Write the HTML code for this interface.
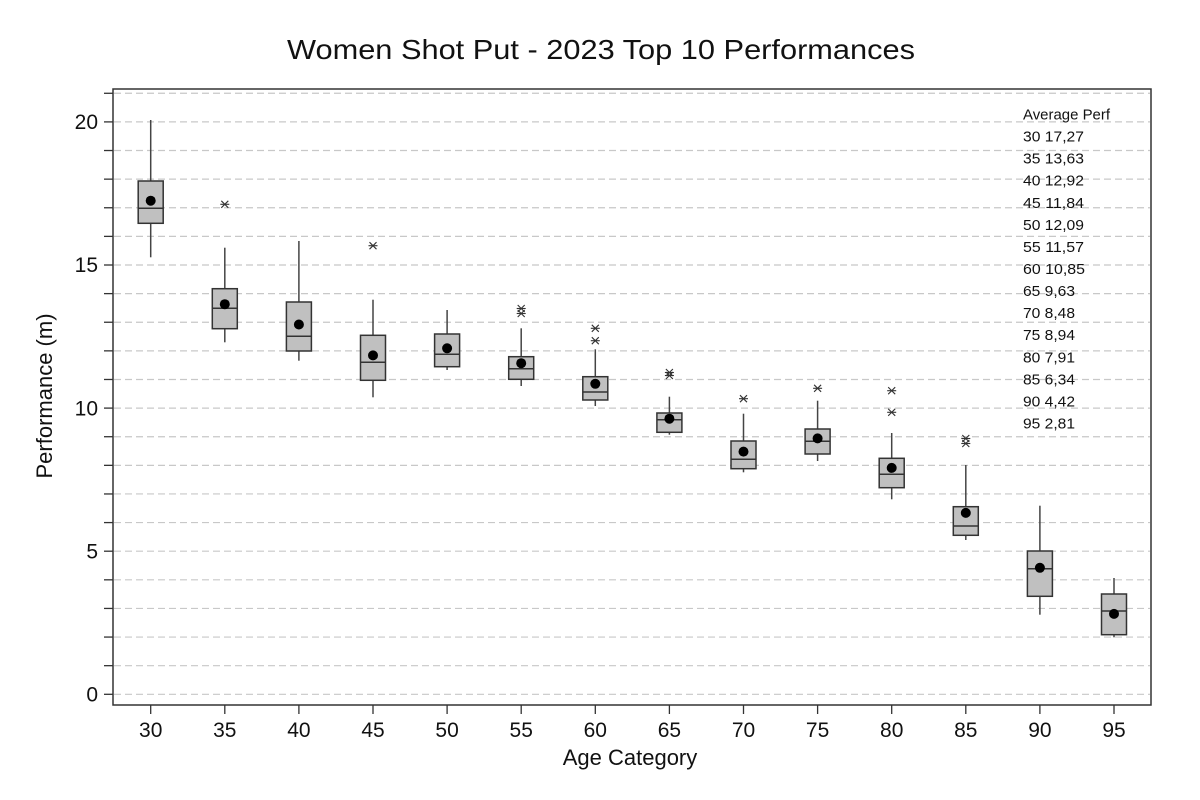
<!DOCTYPE html>
<html><head><meta charset="utf-8"><style>
html,body{margin:0;padding:0;background:#fff;}
svg{display:block;}
text{font-family:"Liberation Sans",Arial,sans-serif;fill:#111;}
</style></head><body>
<svg width="1200" height="800" viewBox="0 0 1200 800" xmlns="http://www.w3.org/2000/svg">
<rect width="1200" height="800" fill="#fff"/>
<text x="601" y="59" font-size="28" text-anchor="middle" textLength="628" lengthAdjust="spacingAndGlyphs">Women Shot Put - 2023 Top 10 Performances</text>
<g id="grid" stroke="#c8c8c8" stroke-width="1.2" stroke-dasharray="7,4"></g>
<g id="yt" stroke="#333" stroke-width="1.3"></g>
<g id="boxes"></g>
<rect x="113" y="89" width="1038" height="616" fill="none" stroke="#333" stroke-width="1.5"/>
<g font-size="21" text-anchor="end">
<text x="98" y="701.5">0</text>
<text x="98" y="558.4">5</text>
<text x="98" y="415.3">10</text>
<text x="98" y="272.2">15</text>
<text x="98" y="129.1">20</text>
</g>
<g id="xt" stroke="#333" stroke-width="1.3"></g>
<g id="xl" font-size="21" text-anchor="middle"></g>
<text x="630" y="765" font-size="22" text-anchor="middle">Age Category</text>
<text transform="translate(52,396) rotate(-90)" font-size="22" text-anchor="middle">Performance (m)</text>
<g font-size="14.5" style="font-family:'DejaVu Sans','Liberation Sans',sans-serif" fill="#111">
<text x="1023" y="119.5" textLength="87" lengthAdjust="spacingAndGlyphs">Average Perf</text>
<text x="1023" y="141.6" textLength="61" lengthAdjust="spacingAndGlyphs">30 17,27</text>
<text x="1023" y="163.6" textLength="61" lengthAdjust="spacingAndGlyphs">35 13,63</text>
<text x="1023" y="185.7" textLength="61" lengthAdjust="spacingAndGlyphs">40 12,92</text>
<text x="1023" y="207.8" textLength="61" lengthAdjust="spacingAndGlyphs">45 11,84</text>
<text x="1023" y="229.8" textLength="61" lengthAdjust="spacingAndGlyphs">50 12,09</text>
<text x="1023" y="251.9" textLength="61" lengthAdjust="spacingAndGlyphs">55 11,57</text>
<text x="1023" y="274.0" textLength="62" lengthAdjust="spacingAndGlyphs">60 10,85</text>
<text x="1023" y="296.1" textLength="52" lengthAdjust="spacingAndGlyphs">65 9,63</text>
<text x="1023" y="318.1" textLength="52" lengthAdjust="spacingAndGlyphs">70 8,48</text>
<text x="1023" y="340.2" textLength="52" lengthAdjust="spacingAndGlyphs">75 8,94</text>
<text x="1023" y="362.3" textLength="52" lengthAdjust="spacingAndGlyphs">80 7,91</text>
<text x="1023" y="384.3" textLength="52" lengthAdjust="spacingAndGlyphs">85 6,34</text>
<text x="1023" y="406.4" textLength="52" lengthAdjust="spacingAndGlyphs">90 4,42</text>
<text x="1023" y="428.5" textLength="52" lengthAdjust="spacingAndGlyphs">95 2,81</text>
</g>
</svg>
<script>
(function(){
var NS="http://www.w3.org/2000/svg";
function el(p,t,a){var e=document.createElementNS(NS,t);for(var k in a)e.setAttribute(k,a[k]);p.appendChild(e);return e;}
var grid=document.getElementById('grid'),yt=document.getElementById('yt');
for(var k=0;k<=21;k++){var y=694.3-k*28.62;el(grid,'line',{x1:114,x2:1150,y1:y,y2:y});el(yt,'line',{x1:104,x2:113,y1:y,y2:y});}
var d=[
[150.7,120,181,208.3,223.3,257.3,200.7,[]],
[224.8,247.7,288.7,308.3,328.7,342.3,304.2,[204.3]],
[298.9,241,302,336.3,351,360.7,324.5,[]],
[373,299.7,335.3,362.3,380.3,397.3,355.4,[245.7]],
[447.1,310,334,354.3,366.7,370,348.3,[]],
[521.2,328.3,356.7,368.7,379.3,386,363.2,[308.5,313.5]],
[595.3,349.3,376.7,392,400,406,383.8,[328.3,340.7]],
[669.4,396.7,413,419.7,432.3,434.7,418.7,[372.5,375.5]],
[743.5,413.7,441,459.3,468.7,472.3,451.6,[398.7]],
[817.6,400.7,429,441.3,454,461,438.4,[388.3]],
[891.7,433,458.3,474.3,487.7,499.3,467.9,[390.7,412.3]],
[965.8,465,506.7,526,535.3,540,512.9,[438.5,443.5]],
[1039.9,505.7,551,568.7,596.3,614.7,567.8,[]],
[1114,578,594,611,634.7,637.3,613.9,[]]
];
var g=document.getElementById('boxes'),xt=document.getElementById('xt'),xl=document.getElementById('xl');
d.forEach(function(r,i){
var x=r[0];
el(g,'line',{x1:x,x2:x,y1:r[1],y2:r[2],stroke:'#444','stroke-width':1.5});
el(g,'line',{x1:x,x2:x,y1:r[4],y2:r[5],stroke:'#444','stroke-width':1.5});
el(g,'rect',{x:x-12.5,y:r[2],width:25,height:r[4]-r[2],fill:'#c0c0c0',stroke:'#333','stroke-width':1.5});
el(g,'line',{x1:x-12.5,x2:x+12.5,y1:r[3],y2:r[3],stroke:'#333','stroke-width':1.5});
el(g,'circle',{cx:x,cy:r[6],r:5,fill:'#000'});
r[7].forEach(function(oy){
el(g,'line',{x1:x-4.5,x2:x+4.5,y1:oy,y2:oy,stroke:'#333','stroke-width':1.1});
el(g,'line',{x1:x-3.5,x2:x+3.5,y1:oy-3.5,y2:oy+3.5,stroke:'#333','stroke-width':1.1});
el(g,'line',{x1:x-3.5,x2:x+3.5,y1:oy+3.5,y2:oy-3.5,stroke:'#333','stroke-width':1.1});
});
el(xt,'line',{x1:x,x2:x,y1:705,y2:714});
var t=el(xl,'text',{x:x,y:737});t.textContent=String(30+5*i);
});
})();
</script>
</body></html>
